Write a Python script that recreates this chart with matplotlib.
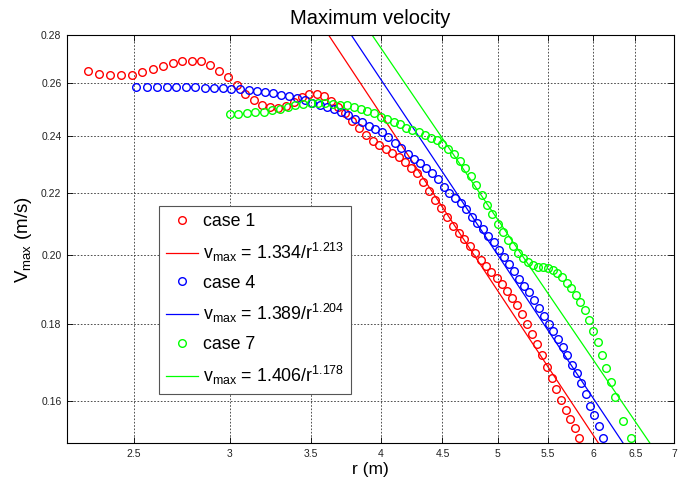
import numpy as np
import matplotlib.pyplot as plt
from matplotlib.ticker import NullLocator

# ---- data ----
r_case1 = [2.29, 2.34, 2.39, 2.44, 2.49, 2.54, 2.59, 2.64, 2.69, 2.74, 2.79, 2.84, 2.89, 2.94, 2.99,
           3.04, 3.09, 3.14, 3.19, 3.24, 3.29, 3.34, 3.39, 3.44, 3.49, 3.54, 3.59, 3.64, 3.69, 3.74,
           3.79, 3.84, 3.89, 3.94, 3.99, 4.04, 4.09, 4.14, 4.19, 4.24, 4.29, 4.34, 4.39, 4.44, 4.49,
           4.54, 4.59, 4.64, 4.69, 4.74, 4.79, 4.84, 4.89, 4.94, 4.99, 5.04, 5.09, 5.14, 5.19, 5.24,
           5.29, 5.34, 5.39, 5.44, 5.49, 5.54, 5.59, 5.64, 5.69, 5.74, 5.79, 5.84]
v_case1 = [0.2649, 0.2639, 0.2635, 0.2632, 0.2635, 0.2646, 0.2657, 0.2670, 0.2683, 0.2693,
           0.2693, 0.2690, 0.2673, 0.2651, 0.2625, 0.2595, 0.2560, 0.2535, 0.2516, 0.2508,
           0.2506, 0.2513, 0.2529, 0.2545, 0.2558, 0.2557, 0.2551, 0.2531, 0.2510, 0.2487,
           0.2457, 0.2430, 0.2402, 0.2382, 0.2365, 0.2352, 0.2339, 0.2324, 0.2307, 0.2286,
           0.2268, 0.2237, 0.2206, 0.2175, 0.2148, 0.2119, 0.2092, 0.2070, 0.2049, 0.2028,
           0.2005, 0.1986, 0.1967, 0.1950, 0.1930, 0.1913, 0.1894, 0.1872, 0.1853, 0.1828,
           0.1800, 0.1774, 0.1746, 0.1716, 0.1686, 0.1657, 0.1629, 0.1602, 0.1578, 0.1557,
           0.1535, 0.1512]

r_case4 = [2.51, 2.56, 2.61, 2.66, 2.71, 2.76, 2.81, 2.86, 2.91, 2.96, 3.01, 3.06, 3.11, 3.16, 3.21,
           3.26, 3.31, 3.36, 3.41, 3.46, 3.51, 3.56, 3.61, 3.66, 3.71, 3.76, 3.81, 3.86, 3.91, 3.96,
           4.01, 4.06, 4.11, 4.16, 4.21, 4.26, 4.31, 4.36, 4.41, 4.46, 4.51, 4.56, 4.61, 4.66, 4.71,
           4.76, 4.81, 4.86, 4.91, 4.96, 5.01, 5.06, 5.11, 5.16, 5.21, 5.26, 5.31, 5.36, 5.41, 5.46,
           5.51, 5.56, 5.61, 5.66, 5.71, 5.76, 5.81, 5.86, 5.91, 5.96, 6.01, 6.06, 6.11]
v_case4 = [0.2587, 0.2588, 0.2588, 0.2588, 0.2586, 0.2586, 0.2585, 0.2583, 0.2581, 0.2581,
           0.2580, 0.2578, 0.2575, 0.2572, 0.2567, 0.2561, 0.2556, 0.2550, 0.2543, 0.2534,
           0.2523, 0.2515, 0.2507, 0.2499, 0.2489, 0.2477, 0.2464, 0.2453, 0.2438, 0.2425,
           0.2413, 0.2395, 0.2375, 0.2356, 0.2336, 0.2318, 0.2302, 0.2286, 0.2267, 0.2246,
           0.2219, 0.2199, 0.2183, 0.2165, 0.2145, 0.2121, 0.2100, 0.2083, 0.2060, 0.2040,
           0.2015, 0.1994, 0.1972, 0.1951, 0.1929, 0.1908, 0.1889, 0.1866, 0.1844, 0.1821,
           0.1799, 0.1780, 0.1759, 0.1737, 0.1716, 0.1691, 0.1670, 0.1644, 0.1618, 0.1589,
           0.1567, 0.1541, 0.1513]

r_case7 = [3.00, 3.05, 3.10, 3.15, 3.20, 3.25, 3.30, 3.35, 3.40, 3.45, 3.50, 3.55, 3.60, 3.65, 3.70,
           3.75, 3.80, 3.85, 3.90, 3.95, 4.00, 4.05, 4.10, 4.15, 4.20, 4.25, 4.30, 4.35, 4.40, 4.45,
           4.50, 4.55, 4.60, 4.65, 4.70, 4.75, 4.80, 4.85, 4.90, 4.95, 5.00, 5.05, 5.10, 5.15, 5.20,
           5.25, 5.30, 5.35, 5.40, 5.45, 5.50, 5.55, 5.60, 5.65, 5.70, 5.75, 5.80, 5.85, 5.90, 5.95,
           6.00, 6.05, 6.10, 6.15, 6.20, 6.25, 6.35, 6.44]
v_case7 = [0.2482, 0.2483, 0.2485, 0.2488, 0.2491, 0.2495, 0.2502, 0.2509, 0.2515, 0.2518,
           0.2524, 0.2525, 0.2524, 0.2521, 0.2517, 0.2514, 0.2507, 0.2501, 0.2493, 0.2484,
           0.2472, 0.2461, 0.2452, 0.2445, 0.2430, 0.2422, 0.2413, 0.2402, 0.2393, 0.2385,
           0.2369, 0.2351, 0.2334, 0.2308, 0.2285, 0.2258, 0.2225, 0.2191, 0.2160, 0.2130,
           0.2099, 0.2073, 0.2048, 0.2029, 0.2007, 0.1992, 0.1979, 0.1970, 0.1964, 0.1964,
           0.1960, 0.1955, 0.1946, 0.1934, 0.1917, 0.1901, 0.1883, 0.1862, 0.1839, 0.1811,
           0.1782, 0.1751, 0.1717, 0.1682, 0.1648, 0.1611, 0.1553, 0.1513]

case_names = ['case 1', 'case 4', 'case 7']
fit_coef = [1.334, 1.389, 1.406]   # v_max = a / r^b
fit_expo = [1.213, 1.204, 1.178]

x_ticks = [2.5, 3, 3.5, 4, 4.5, 5, 5.5, 6, 6.5, 7]
x_tick_labels = ['2.5', '3', '3.5', '4', '4.5', '5', '5.5', '6', '6.5', '7']
y_ticks = [0.16, 0.18, 0.20, 0.22, 0.24, 0.26, 0.28]
y_tick_labels = ['0.16', '0.18', '0.20', '0.22', '0.24', '0.26', '0.28']

# ---- style ----
plt.rcParams['font.family'] = ['Liberation Sans', 'DejaVu Sans']
plt.rcParams['mathtext.fontset'] = 'custom'
plt.rcParams['mathtext.rm'] = 'Liberation Sans'
plt.rcParams['mathtext.it'] = 'Liberation Sans:italic'
plt.rcParams['mathtext.bf'] = 'Liberation Sans:bold'

colors = ['#ff0000', '#0000ff', '#00ff00']
r_data = [r_case1, r_case4, r_case7]
v_data = [v_case1, v_case4, v_case7]

fig = plt.figure(figsize=(6.85, 4.79), dpi=100)
ax = fig.add_axes([0.0978, 0.0745, 0.8866, 0.8524])
ax.set_xscale('log')
ax.set_yscale('log')

r_line = np.array([2.2, 7.0])
handles = []
for r, v, c, name, a, b in zip(r_data, v_data, colors, case_names, fit_coef, fit_expo):
    h_pts, = ax.plot(r, v, linestyle='none', marker='o', markersize=5.5,
                     markerfacecolor='none', markeredgecolor=c, markeredgewidth=1.0,
                     label=name)
    fit_label = f'v$_{{\\mathrm{{max}}}}$ = {a:.3f}/r$^{{\\mathrm{{{b:.3f}}}}}$'
    h_fit, = ax.plot(r_line, a / r_line ** b, color=c, linewidth=0.9, label=fit_label)
    handles += [h_pts, h_fit]

ax.set_xlim(2.2, 7.0)
ax.set_ylim(0.15, 0.28)
ax.set_xticks(x_ticks)
ax.set_xticklabels(x_tick_labels)
ax.set_yticks(y_ticks)
ax.set_yticklabels(y_tick_labels)
ax.xaxis.set_minor_locator(NullLocator())
ax.yaxis.set_minor_locator(NullLocator())
ax.tick_params(direction='in', top=True, right=True, length=4, width=0.6,
               labelsize=7.5, labelcolor='#222222', pad=4)
ax.grid(True, which='major', color='#333333', linestyle=(0, (2, 2)), linewidth=0.6)
for s in ax.spines.values():
    s.set_linewidth(0.8)

ax.set_title('Maximum velocity', fontsize=14.5, pad=8)
ax.set_xlabel('r (m)', fontsize=12.5, labelpad=2)
ax.set_ylabel('V$_{\\mathrm{max}}$ (m/s)', fontsize=13.5, labelpad=5)

leg = ax.legend(handles=handles, loc='upper left', bbox_to_anchor=(0.152, 0.581),
                borderaxespad=0, fontsize=12.8, fancybox=False, framealpha=1,
                edgecolor='#555555', handlelength=1.75, handletextpad=0.3,
                labelspacing=0.6, borderpad=0.4)
leg.get_frame().set_linewidth(0.8)

fig.savefig('out.png', dpi=100)
